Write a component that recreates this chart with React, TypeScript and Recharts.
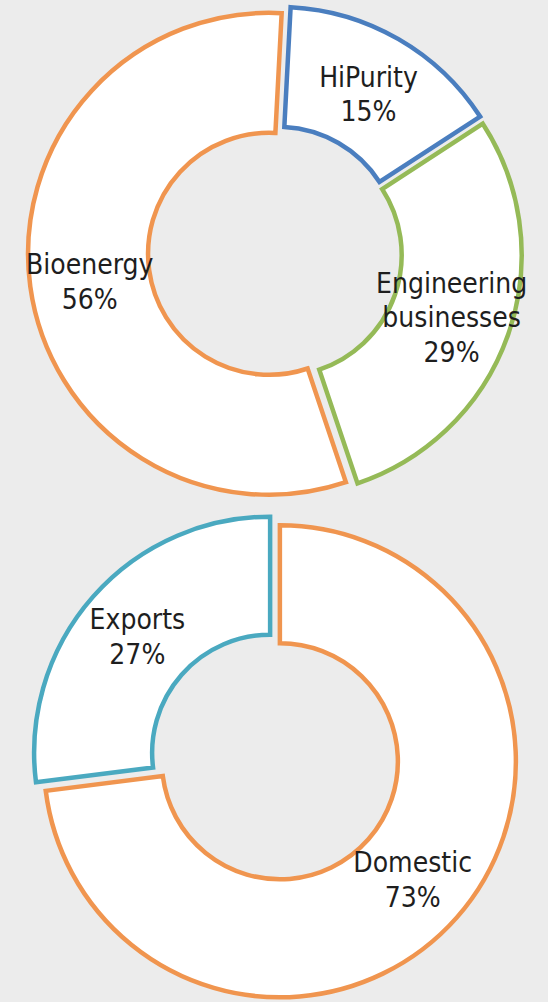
import React from 'react';
import { PieChart, Pie, Cell, Sector } from 'recharts';

const segmentNames = ['HiPurity', 'Engineering businesses', 'Bioenergy'];
const segmentShares = [15, 29, 56];
const segmentColors = ['#4A7EBF', '#95BA57', '#F0954F'];

const marketNames = ['Domestic', 'Exports'];
const marketShares = [73, 27];
const marketColors = ['#F0954F', '#4AA9C0'];

const segmentData = segmentNames.map((name, i) => ({ name, value: segmentShares[i] }));
const marketData = marketNames.map((name, i) => ({ name, value: marketShares[i] }));

const RAD = Math.PI / 180;
const FONT = "'DejaVu Sans Condensed', 'DejaVu Sans', sans-serif";

function explodedShape(dist: number) {
  return (props: any) => {
    const { cx, cy, midAngle } = props;
    const dx = dist * Math.cos(-midAngle * RAD);
    const dy = dist * Math.sin(-midAngle * RAD);
    return <Sector {...props} cx={cx + dx} cy={cy + dy} />;
  };
}

function makeLabel(dist: number, names: string[], shiftY: number) {
  return (props: any) => {
    const { cx, cy, midAngle, innerRadius, outerRadius, index, value } = props;
    const r = (innerRadius + outerRadius) / 2 + dist;
    const x = cx + r * Math.cos(-midAngle * RAD);
    const y = cy + r * Math.sin(-midAngle * RAD) + shiftY;
    const lines = [...names[index].split(' '), `${value}%`];
    const lh = 34.5;
    const y0 = y - ((lines.length - 1) * lh) / 2;
    return (
      <text
        x={x}
        y={y0}
        textAnchor="middle"
        dominantBaseline="central"
        fill="#1e1e1e"
        fontFamily={FONT}
        fontSize={28}
      >
        {lines.map((l, i) => (
          <tspan key={i} x={x} y={y0 + i * lh}>
            {l}
          </tspan>
        ))}
      </text>
    );
  };
}

export default function App() {
  return (
    <div
      style={{
        position: 'absolute',
        left: 0,
        top: 0,
        width: 548,
        height: 1002,
        background: '#ececec',
        overflow: 'hidden',
      }}
    >
      <PieChart width={548} height={1002} margin={{ top: 0, right: 0, bottom: 0, left: 0 }}>
        <Pie
          data={segmentData}
          dataKey="value"
          nameKey="name"
          cx={275}
          cy={253}
          innerRadius={121}
          outerRadius={241}
          startAngle={87}
          endAngle={-273}
          isAnimationActive={false}
          shape={explodedShape(6)}
          label={makeLabel(6, segmentNames, 3)}
          labelLine={false}
        >
          {segmentData.map((d, i) => (
            <Cell key={d.name} fill="#ffffff" stroke={segmentColors[i]} strokeWidth={4.5} />
          ))}
        </Pie>
        <Pie
          data={marketData}
          dataKey="value"
          nameKey="name"
          cx={275}
          cy={757}
          innerRadius={118}
          outerRadius={236}
          startAngle={90}
          endAngle={-270}
          isAnimationActive={false}
          shape={explodedShape(6.5)}
          label={makeLabel(6.5, marketNames, 1)}
          labelLine={false}
        >
          {marketData.map((d, i) => (
            <Cell key={d.name} fill="#ffffff" stroke={marketColors[i]} strokeWidth={4.5} />
          ))}
        </Pie>
      </PieChart>
    </div>
  );
}
